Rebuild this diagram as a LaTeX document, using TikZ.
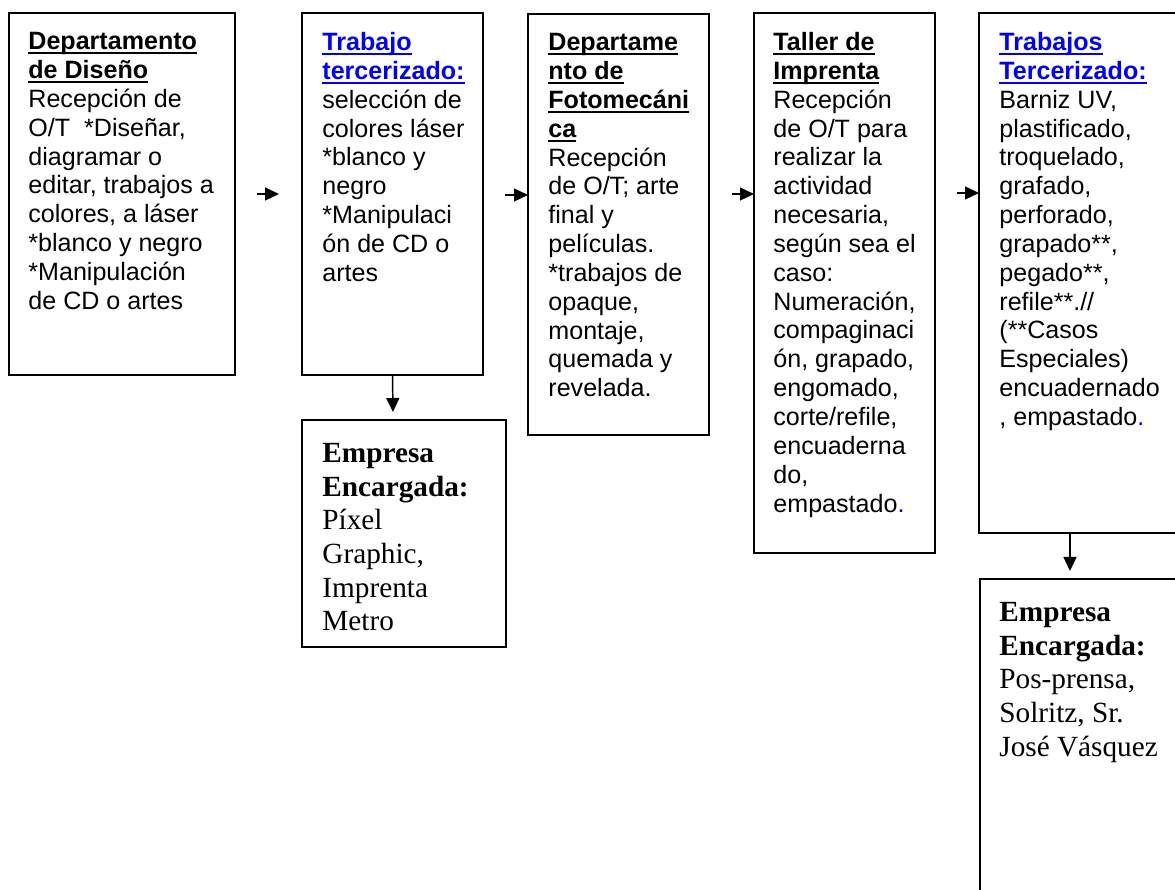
\documentclass[tikz,border=0pt]{standalone}
\usepackage{fontspec}
\setmainfont{Liberation Sans}
\newfontfamily\serifface{Liberation Serif}
\usetikzlibrary{arrows.meta}
\definecolor{linkblue}{RGB}{0,0,255}
% one drawing unit = one pixel of the 1175 x 890 sheet
\def\px{0.4785pt}
% word-processor style underline, one line at a time
\newsavebox\ulbox
\newcommand\ulword[1]{\sbox\ulbox{#1}\rlap{\rule[-2.1pt]{\wd\ulbox}{0.85pt}}\usebox\ulbox}
\newcommand\bluedot{\textcolor{linkblue}{.}}

\begin{document}
\begin{tikzpicture}[x=\px, y=-\px,
  box/.style={draw, line width=0.9pt, rectangle, anchor=north west,
              inner sep=0pt, outer sep=0pt},
  bodytext/.style={anchor=north west, inner sep=0pt, align=left,
              font=\fontsize{12}{13.8}\selectfont},
  firmtext/.style={anchor=north west, inner sep=0pt, align=left,
              font=\serifface\fontsize{14}{16.1}\selectfont},
  flow/.style={line width=0.7pt, -{Triangle[length=6.7pt, width=6.2pt]}},
  heading/.style={font=\bfseries}]

\useasboundingbox (0,0) rectangle (1175,890);
\clip (0,0) rectangle (1175,890);

% ---- process boxes -------------------------------------------------
\node[box, minimum width=226*\px, minimum height=362*\px] (b1) at (9,13) {};
\node[box, minimum width=181*\px, minimum height=362*\px] (b2) at (302,13) {};
\node[box, minimum width=181*\px, minimum height=421*\px] (b3) at (528,14) {};
\node[box, minimum width=181*\px, minimum height=540*\px] (b4) at (754,13) {};
\node[box, minimum width=240*\px, minimum height=520*\px] (b5) at (979,13) {};

% ---- contractor boxes ----------------------------------------------
\node[box, minimum width=204*\px, minimum height=227*\px] (e1) at (302,420) {};
\node[box, minimum width=240*\px, minimum height=340*\px] (e2) at (980,579) {};

% ---- texts ---------------------------------------------------------
\node[bodytext] (t1) at (28,32) {%
  \textbf{\ulword{Departamento}}\\
  \textbf{\ulword{de Diseño}}\\
  Recepción de\\
  O/T~~*Diseñar,\\
  diagramar o\\
  editar, trabajos a\\
  colores, a láser\\
  *blanco y negro\\
  *Manipulación\\
  de CD o artes};

\node[bodytext] (t2) at (322,32) {%
  \textcolor{linkblue}{\textbf{\ulword{Trabajo}}}\\
  \textcolor{linkblue}{\textbf{\ulword{tercerizado:}}}\\
  selección de\\
  colores láser\\
  *blanco y\\
  negro\\
  *Manipulaci\\
  ón de CD o\\
  artes};

\node[bodytext] (t3) at (548,33) {%
  \textbf{\ulword{Departame}}\\
  \textbf{\ulword{nto de}}\\
  \textbf{\ulword{Fotomecáni}}\\
  \textbf{\ulword{ca}}\\
  Recepción\\
  de O/T; arte\\
  final y\\
  películas.\\
  *trabajos de\\
  opaque,\\
  montaje,\\
  quemada y\\
  revelada.};

\node[bodytext] (t4) at (773,32) {%
  \textbf{\ulword{Taller de}}\\
  \textbf{\ulword{Imprenta}}\\
  Recepción\\
  de O/T para\\
  realizar la\\
  actividad\\
  necesaria,\\
  según sea el\\
  caso:\\
  Numeración,\\
  compaginaci\\
  ón, grapado,\\
  engomado,\\
  corte/refile,\\
  encuaderna\\
  do,\\
  empastado\bluedot};

\node[bodytext] (t5) at (999,32) {%
  \textcolor{linkblue}{\textbf{\ulword{Trabajos}}}\\
  \textcolor{linkblue}{\textbf{\ulword{Tercerizado:}}}\\
  Barniz UV,\\
  plastificado,\\
  troquelado,\\
  grafado,\\
  perforado,\\
  grapado**,\\
  pegado**,\\
  refile**.//\\
  (**Casos\\
  Especiales)\\
  encuadernado\\
  , empastado\bluedot};

\node[firmtext] (t6) at (322,443) {%
  \textbf{Empresa}\\
  \textbf{Encargada:}\\
  Píxel\\
  Graphic,\\
  Imprenta\\
  Metro};

\node[firmtext] (t7) at (999,602) {%
  \textbf{Empresa}\\
  \textbf{Encargada:}\\
  Pos-prensa,\\
  Solritz, Sr.\\
  José Vásquez};

% ---- connectors ----------------------------------------------------
\coordinate (h1s) at (257,194);
\coordinate (h1e) at (279,194);
\coordinate (h2s) at (505,195);
\coordinate (h3s) at (732,194);
\coordinate (h4s) at (957,193);
\coordinate (v1e) at (393,412);
\coordinate (v2e) at (1070,571);

\draw[flow] (h1s) -- (h1e);
\draw[flow] (h2s) -- (h2s -| b3.west);
\draw[flow] (h3s) -- (h3s -| b4.west);
\draw[flow] (h4s) -- (h4s -| b5.west);
\draw[flow] (b2.south) -- (v1e);
\draw[flow] (v2e |- b5.south) -- (v2e);

\end{tikzpicture}
\end{document}
